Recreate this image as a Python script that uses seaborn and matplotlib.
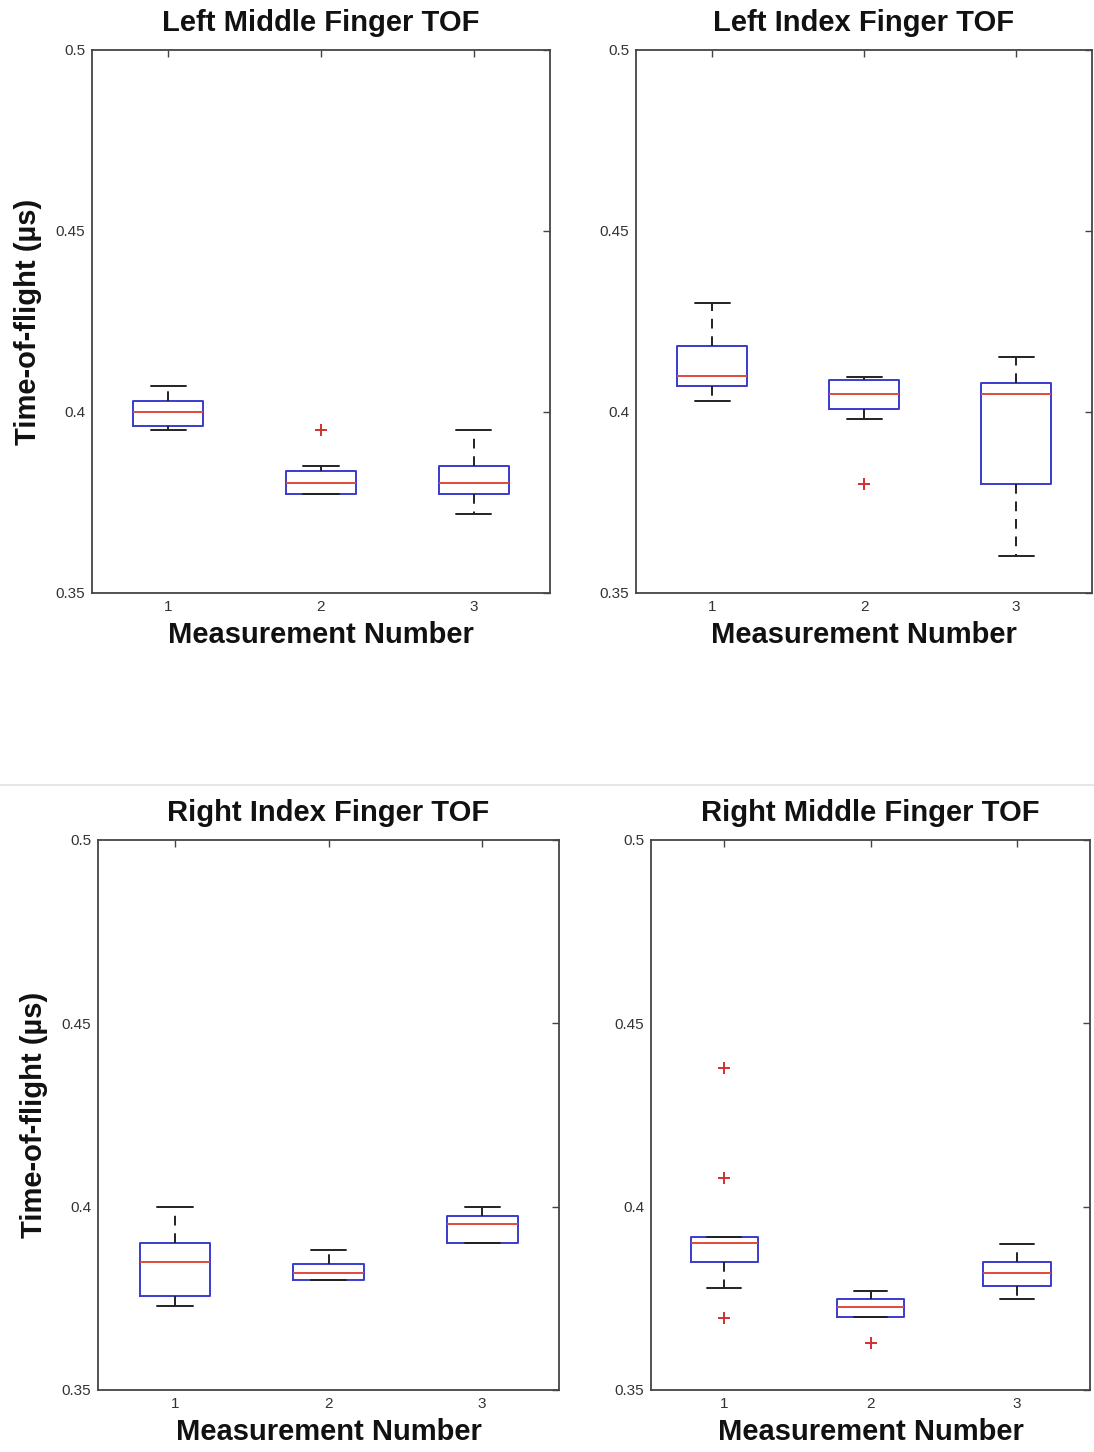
import matplotlib
matplotlib.use("Agg")
import matplotlib.pyplot as plt
import seaborn as sns
from matplotlib.lines import Line2D

# Panel titles (reading order: top-left, top-right, bottom-left, bottom-right)
titles = ["Left Middle Finger TOF", "Left Index Finger TOF",
          "Right Index Finger TOF", "Right Middle Finger TOF"]
measurements = ["1", "2", "3"]

whishi = [[0.4073, 0.3852, 0.3949],
          [0.4300, 0.4097, 0.4151],
          [0.4000, 0.3882, 0.4000],
          [0.3918, 0.3771, 0.3899]]
q3 = [[0.4030, 0.3837, 0.3852],
      [0.4182, 0.4088, 0.4079],
      [0.3900, 0.3843, 0.3974],
      [0.3918, 0.3747, 0.3850]]
med = [[0.4000, 0.3803, 0.3803],
       [0.4099, 0.4049, 0.4049],
       [0.3850, 0.3820, 0.3952],
       [0.3902, 0.3727, 0.3820]]
q1 = [[0.3961, 0.3773, 0.3773],
      [0.4072, 0.4008, 0.3801],
      [0.3755, 0.3800, 0.3900],
      [0.3850, 0.3700, 0.3784]]
whislo = [[0.3949, 0.3773, 0.3718],
          [0.4030, 0.3981, 0.3602],
          [0.3729, 0.3800, 0.3900],
          [0.3777, 0.3700, 0.3747]]
fliers = [[[], [0.3949], []],
          [[], [0.3802], []],
          [[], [], []],
          [[0.4377, 0.4077, 0.3696], [0.3627], []]]

yticks = [0.35, 0.4, 0.45, 0.5]
ytick_labels = ["0.35", "0.4", "0.45", "0.5"]

sns.set_theme(style="white")
plt.rcParams['font.family'] = ['Liberation Sans', 'DejaVu Sans']

fig = plt.figure(figsize=(10.94, 14.52), dpi=100)

# axes rectangles in figure fractions (the two rows come from slightly different scans)
rects = [[0.0841, 0.5916, 0.4186, 0.3740],
         [0.5814, 0.5916, 0.4168, 0.3740],
         [0.0896, 0.0427, 0.4214, 0.3788],
         [0.5951, 0.0427, 0.4013, 0.3788]]

for i, title in enumerate(titles):
    ax = fig.add_axes(rects[i])
    stats = []
    for j, m in enumerate(measurements):
        stats.append(dict(label=m, med=med[i][j], q1=q1[i][j], q3=q3[i][j],
                          whislo=whislo[i][j], whishi=whishi[i][j],
                          fliers=fliers[i][j]))
    ax.bxp(stats, positions=[1, 2, 3], widths=0.46, showfliers=True,
           boxprops=dict(color="#3a3acf", linewidth=1.4),
           medianprops=dict(color="#e04a3a", linewidth=1.4),
           whiskerprops=dict(color="#222222", linewidth=1.4, linestyle=(0, (5, 4))),
           capprops=dict(color="#222222", linewidth=1.4),
           flierprops=dict(marker="+", markeredgecolor="#d03030", markersize=9,
                           markeredgewidth=1.4, linestyle="none"))
    ax.set_xlim(0.5, 3.5)
    ax.set_ylim(0.35, 0.5)
    ax.set_yticks(yticks)
    ax.set_yticklabels(ytick_labels)
    ax.set_xticks([1, 2, 3])
    ax.set_xticklabels(measurements)
    ax.tick_params(direction="in", top=True, right=True, length=5, width=1,
                   labelsize=11, labelcolor="#333333", color="#444444", pad=5)
    for s in ax.spines.values():
        s.set_color("#444444")
        s.set_linewidth(1.3)
    ax.set_title(title, fontsize=21, fontweight="bold", pad=14, color="#111111")
    ax.set_xlabel("Measurement Number", fontsize=21, fontweight="bold",
                  labelpad=5, color="#111111")
    if i % 2 == 0:
        ax.set_ylabel("Time-of-flight (µs)", fontsize=21, fontweight="bold",
                      labelpad=10, color="#111111")
    ax.set_facecolor("white")

# faint seam between the two scanned rows
fig.add_artist(Line2D([0, 1], [1 - 785 / 1452] * 2, color="#e6e6e6", linewidth=1.5))

fig.savefig("out.png", dpi=100, facecolor="white")
